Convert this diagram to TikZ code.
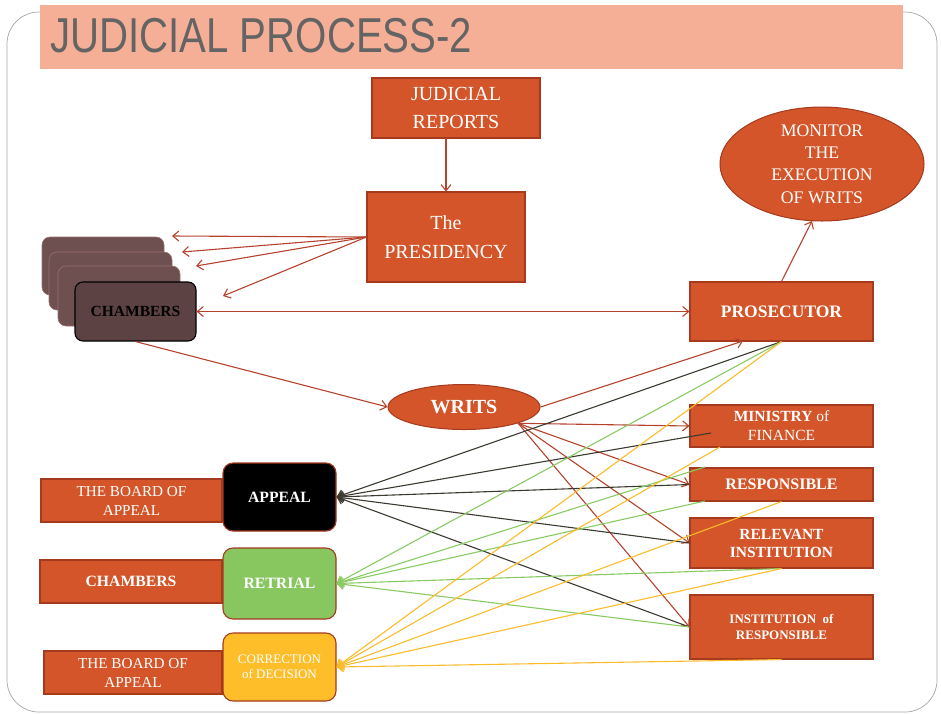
\documentclass[tikz,border=0pt]{standalone}
\usepackage{fontspec}
\setmainfont{Liberation Serif}
\newfontfamily\titlefont{Liberation Sans}
\usetikzlibrary{arrows.meta,shapes.geometric,calc}
\definecolor{orfill}{RGB}{211,85,41}
\definecolor{orline}{RGB}{165,58,30}
\definecolor{band}{RGB}{245,175,150}
\definecolor{titlegray}{RGB}{100,100,100}
\definecolor{redarr}{RGB}{180,66,44}
\definecolor{darkln}{RGB}{60,58,48}
\definecolor{greenln}{RGB}{138,202,98}
\definecolor{yellowln}{RGB}{251,188,44}
\definecolor{greenfill}{RGB}{136,198,95}
\definecolor{yellowfill}{RGB}{253,190,42}
\definecolor{chback}{RGB}{110,80,80}
\definecolor{chfront}{RGB}{92,66,66}
\begin{document}
\begin{tikzpicture}[x=1pt,y=-1pt,
  obox/.style={draw=orline,fill=orfill,line width=1.1pt,text=white,align=center,inner sep=0pt},
  rbox/.style={draw=orline,line width=1.1pt,rounded corners=10pt,text=white,align=center,inner sep=0pt},
  oell/.style={ellipse,draw=orline,fill=orfill,line width=1pt,text=white,align=center,inner sep=0pt},
  card/.style={draw=chback!70!pink,fill=chback,rounded corners=8pt,line width=0.6pt},
  tip/.style={-{Straight Barb[length=6pt,width=10pt]}},
  rarr/.style={tip,draw=redarr,line width=1.1pt},
  dln/.style={tip,draw=darkln,line width=1.1pt},
  gln/.style={tip,draw=greenln,line width=1.1pt},
  yln/.style={tip,draw=yellowln,line width=1.1pt}]
\useasboundingbox (0,0) rectangle (941,713);
% slide frame
\draw[gray!70,line width=0.7pt,rounded corners=32pt] (7,12) rectangle (937,712);
% title band
\fill[band] (40,5) rectangle (903,69);
\node[anchor=base west,inner sep=0pt,text=titlegray] (title) at (50,52)
  {\scalebox{0.82}[1]{\titlefont\fontsize{49}{52}\selectfont JUDICIAL PROCESS-2}};

% top boxes
\node[obox,minimum width=168pt,minimum height=60pt,font=\fontsize{20}{28}\selectfont] (rep) at (456,108) {JUDICIAL\\REPORTS};
\node[obox,minimum width=158pt,minimum height=90pt,font=\fontsize{20}{29}\selectfont] (pres) at (446,237) {The\\PRESIDENCY};
\node[oell,minimum width=204pt,minimum height=114pt,font=\fontsize{17.7}{22.3}\selectfont] (mon) at (822,164) {MONITOR\\THE\\EXECUTION\\OF WRITS};

% chambers stack
\node[card,minimum width=122pt,minimum height=58pt] (c1) at (103,266) {};
\node[card,minimum width=123pt,minimum height=58pt] (c2) at (110.5,281) {};
\node[card,minimum width=122pt,minimum height=60pt] (c3) at (119,296) {};
\node[draw=black,fill=chfront,rounded corners=8pt,line width=1.1pt,minimum width=121pt,minimum height=59pt,
  font=\bfseries\fontsize{15.5}{18}\selectfont,text=black] (ch) at (135.5,311.5) {CHAMBERS};

% right boxes
\node[obox,minimum width=183pt,minimum height=59pt,font=\bfseries\fontsize{17.5}{20}\selectfont] (pros) at (781.5,311.5) {PROSECUTOR};
\node[obox,minimum width=183pt,minimum height=42pt,font=\fontsize{15.5}{19}\selectfont] (min) at (781.5,426) {\textbf{MINISTRY} of\\FINANCE};
\node[obox,minimum width=183pt,minimum height=33pt,font=\bfseries\fontsize{16}{18}\selectfont] (resp) at (781.5,484.5) {RESPONSIBLE};
\node[obox,minimum width=183pt,minimum height=50pt,font=\bfseries\fontsize{15.5}{18}\selectfont] (relev) at (781.5,543) {RELEVANT\\INSTITUTION};
\node[obox,minimum width=183pt,minimum height=64pt,font=\bfseries\fontsize{13}{16}\selectfont] (inst) at (781.5,627) {INSTITUTION\ \ of\\RESPONSIBLE};

% writs
\node[oell,minimum width=152pt,minimum height=45pt,font=\bfseries\fontsize{20}{22}\selectfont] (writs) at (464,407) {WRITS};

% left bottom
\node[obox,minimum width=181pt,minimum height=43pt,font=\fontsize{15.2}{19}\selectfont] (boa1) at (131.5,500.5) {THE BOARD OF\\APPEAL};
\node[rbox,fill=black,minimum width=113pt,minimum height=68pt,font=\bfseries\fontsize{15.7}{18}\selectfont] (app) at (279.5,497) {APPEAL};
\node[obox,minimum width=182pt,minimum height=43pt,font=\bfseries\fontsize{15.7}{18}\selectfont] (chl) at (131,581.5) {CHAMBERS};
\node[rbox,fill=greenfill,minimum width=113pt,minimum height=71pt,font=\bfseries\fontsize{15.8}{18}\selectfont] (retr) at (279.5,583.5) {RETRIAL};
\node[obox,minimum width=178pt,minimum height=43pt,font=\fontsize{15.2}{19}\selectfont] (boa2) at (133,672.5) {THE BOARD OF\\APPEAL};
\node[rbox,fill=yellowfill,minimum width=113pt,minimum height=68pt,font=\fontsize{13}{15}\selectfont] (corr) at (279.5,667) {CORRECTION\\of DECISION};

% coordinates
\coordinate (t1) at (172,236);
\coordinate (t2) at (182,252);
\coordinate (t3) at (196,266);
\coordinate (t4) at (223,296);
\coordinate (repout) at (446,138);
\coordinate (minin) at (711,433);
\coordinate (minbot) at (720,447);
\coordinate (resptop) at (705,467);
\coordinate (respbl) at (705,501);
\coordinate (prosin) at (743,341);
\coordinate (monin) at (812,221);

% red arrows
\draw[rarr] (repout) -- (pres.north);
\foreach \t in {t1,t2,t3,t4} \draw[rarr] (pres.west) -- (\t);
\draw[rarr,{Straight Barb[length=6pt,width=10pt]}-{Straight Barb[length=6pt,width=10pt]}] (ch.east) -- (pros.west);
\draw[rarr] (ch.south) -- (writs.west);
\draw[rarr] (writs.east) -- (prosin);
\draw[rarr] (pros.north) -- (monin);
\foreach \b in {min,resp,relev,inst} \draw[rarr] (writs.south east) -- (\b.west);

% dark lines to APPEAL
\draw[dln] (pros.south) -- (app.east);
\draw[dln] (minin) -- (app.east);
\draw[dln] (resp.west) -- (app.east);
\draw[dln] (relev.west) -- (app.east);
\draw[dln] (inst.west) -- (app.east);

% green lines to RETRIAL
\draw[gln] (pros.south) -- (retr.east);
\draw[gln] (resptop) -- (retr.east);
\draw[gln] (respbl) -- (retr.east);
\draw[gln] (relev.south) -- (retr.east);
\draw[gln] (inst.west) -- (retr.east);

% yellow lines to CORRECTION
\draw[yln] (pros.south) -- (corr.east);
\draw[yln] (minbot) -- (corr.east);
\draw[yln] (resp.south) -- (corr.east);
\draw[yln] (relev.south) -- (corr.east);
\draw[yln] (inst.south) -- (corr.east);
\end{tikzpicture}
\end{document}
